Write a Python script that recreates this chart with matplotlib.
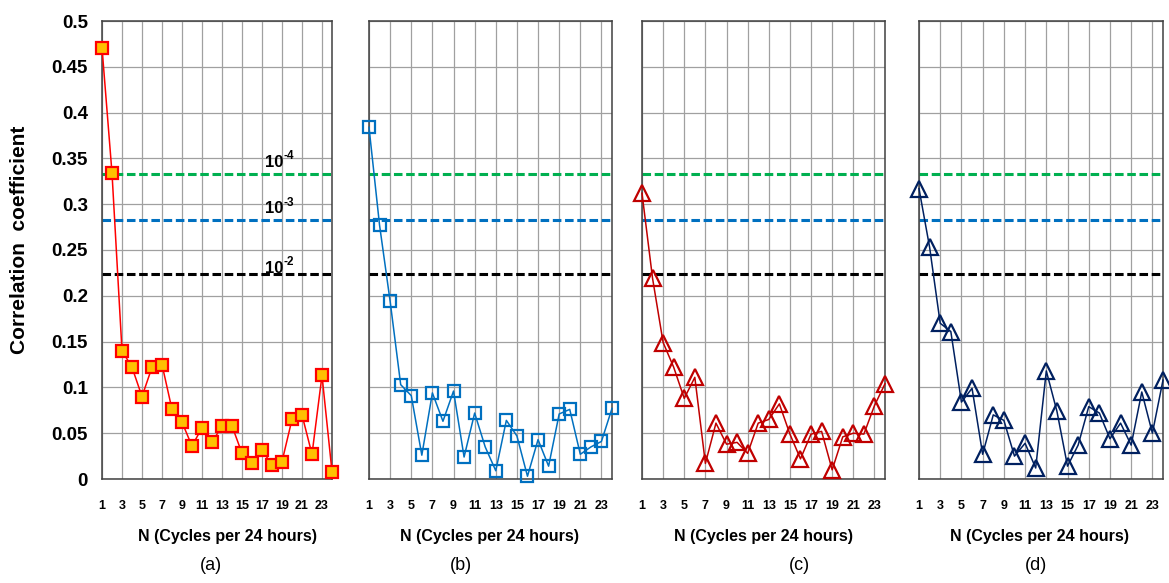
import matplotlib
matplotlib.use("Agg")
import matplotlib.pyplot as plt
import numpy as np

plt.rcParams['font.family'] = ['Liberation Sans', 'DejaVu Sans']

# Harmonic number N (cycles per 24 hours)
cycles = list(range(1, 25))

corr_a = [0.471, 0.334, 0.140, 0.122, 0.090, 0.122, 0.125, 0.076, 0.062, 0.036,
          0.056, 0.040, 0.058, 0.058, 0.028, 0.017, 0.032, 0.015, 0.019, 0.065,
          0.070, 0.027, 0.113, 0.008]
corr_b = [0.384, 0.277, 0.194, 0.103, 0.091, 0.026, 0.094, 0.063, 0.096, 0.024,
          0.072, 0.035, 0.009, 0.064, 0.047, 0.003, 0.043, 0.014, 0.071, 0.076,
          0.027, 0.035, 0.041, 0.077]
corr_c = [0.312, 0.219, 0.149, 0.122, 0.088, 0.111, 0.017, 0.061, 0.038, 0.040,
          0.028, 0.061, 0.065, 0.082, 0.049, 0.022, 0.049, 0.052, 0.010, 0.046,
          0.050, 0.049, 0.080, 0.104]
corr_d = [0.317, 0.253, 0.170, 0.161, 0.084, 0.099, 0.027, 0.070, 0.064, 0.025,
          0.039, 0.012, 0.118, 0.074, 0.014, 0.037, 0.079, 0.072, 0.044, 0.061,
          0.037, 0.095, 0.050, 0.108]

# Significance thresholds for the correlation coefficient
sig_exponents = ['-4', '-3', '-2']
sig_values = [0.333, 0.283, 0.224]
sig_colors = ['#00B050', '#0070C0', '#000000']

panel_tags = ['(a)', '(b)', '(c)', '(d)']
xtick_labels = [str(v) for v in range(1, 24, 2)]
ytick_values = [0, 0.05, 0.1, 0.15, 0.2, 0.25, 0.3, 0.35, 0.4, 0.45, 0.5]
ytick_labels = ['0', '0.05', '0.1', '0.15', '0.2', '0.25', '0.3', '0.35', '0.4', '0.45', '0.5']

W, H = 1169, 583
fig = plt.figure(figsize=(W / 100, H / 100), dpi=100)

# axes extents in pixels (left, right)
extents = [(102, 332), (369, 612), (642, 885), (919, 1163)]
top_px, bot_px = 21, 479

styles = [
    dict(color='#FF0000', marker='s', ms=8.5, mfc='#FFC000', mec='#FF0000', mew=1.6),
    dict(color='#0070C0', marker='s', ms=9, mfc='none', mec='#0070C0', mew=1.6),
    dict(color='#C00000', marker='^', ms=12, mfc='none', mec='#C00000', mew=1.6),
    dict(color='#002060', marker='^', ms=12, mfc='none', mec='#002060', mew=1.6),
]
series = [corr_a, corr_b, corr_c, corr_d]
label_cx = [228, 490, 763, 1040]
tag_cx = [211, 461, 799, 1036]

for i, ((l, r), data, st) in enumerate(zip(extents, series, styles)):
    ax = fig.add_axes([l / W, 1 - bot_px / H, (r - l) / W, (bot_px - top_px) / H])
    ax.set_xlim(1, 24)
    ax.set_ylim(0, 0.5)
    ax.set_xticks(range(1, 24, 2))
    ax.set_yticks(ytick_values)
    ax.grid(True, color='#A0A0A0', linewidth=0.9)
    ax.set_axisbelow(True)
    for sp in ax.spines.values():
        sp.set_color('#404040')
        sp.set_linewidth(1.1)
    ax.tick_params(length=0)
    ax.tick_params(axis='x', pad=15)
    ax.set_xticklabels(xtick_labels, fontsize=9, fontweight='bold')
    if i == 0:
        ax.set_yticklabels(ytick_labels, fontsize=13.5, fontweight='bold')
        ax.tick_params(axis='y', pad=10)
    else:
        ax.set_yticklabels([])

    for val, col in zip(sig_values, sig_colors):
        ax.axhline(val, color=col, linewidth=2.2, dashes=(2.8, 1.2), zorder=2)

    ax.plot(cycles, data, linewidth=1.1, clip_on=False, zorder=4, **st)

    if i == 0:
        for exp, val, dy in zip(sig_exponents, sig_values, [0.008, 0.007, 0.001]):
            ax.text(19.1, val + dy, '10', ha='right', va='baseline',
                    fontsize=12, fontweight='bold', zorder=5)
            ax.annotate(exp, xy=(19.1, val + dy), xytext=(0.5, 5.5),
                        textcoords='offset points', ha='left', va='baseline',
                        fontsize=8.5, fontweight='bold', zorder=5)

    fig.text(label_cx[i] / W, 1 - 537 / H, 'N (Cycles per 24 hours)',
             ha='center', va='center', fontsize=11.5, fontweight='bold')
    fig.text(tag_cx[i] / W, 1 - 566 / H, panel_tags[i],
             ha='center', va='center', fontsize=13)

fig.text(20 / W, 1 - 240 / H, 'Correlation  coefficient', rotation=90,
         ha='center', va='center', fontsize=15, fontweight='bold')

fig.savefig('out.png', dpi=100)
